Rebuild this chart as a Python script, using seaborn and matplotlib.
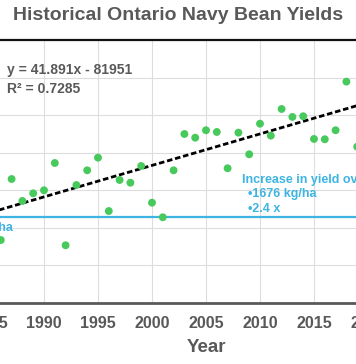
import matplotlib
matplotlib.use("Agg")
import matplotlib.pyplot as plt
import numpy as np
import pandas as pd
import seaborn as sns

# Yield data (kg/ha)
years = [1986, 1987, 1988, 1989, 1990, 1991, 1992, 1993, 1994, 1995,
         1996, 1997, 1998, 1999, 2000, 2001, 2002, 2003, 2004, 2005,
         2006, 2007, 2008, 2009, 2010, 2011, 2012, 2013, 2014, 2015,
         2016, 2017, 2018, 2019]
yields = [838, 1650, 1358, 1460, 1500, 1863, 768, 1570, 1766, 1934,
          1224, 1637, 1601, 1823, 1335, 1141, 1766, 2249, 2200, 2299,
          2276, 1793, 2267, 1979, 2386, 2227, 2582, 2476, 2485, 2183,
          2179, 2299, 2946, 2080]

# Trendline from the chart's equation
slope = 41.891
intercept = -81951
r_squared = 0.7285
trend_years = [1981, 2020]

baseline = 1150
increase = 1676
ratio = 2.4

df = pd.DataFrame({"year": years, "yield": yields})
df_trend = pd.DataFrame({"year": trend_years})
df_trend["yield"] = slope * df_trend["year"] + intercept

sns.set_theme(style="whitegrid")
plt.rcParams['font.family'] = ['Liberation Sans', 'DejaVu Sans']

gray = "#595959"
green = "#47C95B"
blue = "#3DB4E2"

fig = plt.figure(figsize=(3.56, 3.64), dpi=100)
ax = fig.add_axes([-64 / 356, 61 / 364, 540 / 356, 263 / 364])

ax.axhline(baseline, color=blue, lw=1.6, zorder=2)
sns.lineplot(data=df_trend, x="year", y="yield", ax=ax, color="black",
             lw=2.0, dashes=False, zorder=3)
ax.lines[-1].set_dashes((2.0, 1.0))
sns.scatterplot(data=df, x="year", y="yield", ax=ax, color=green, s=32,
                edgecolor="none", zorder=4)

ax.set_xlim(1980, 2030)
ax.set_ylim(0, 3500)
ax.set_xticks(range(1980, 2031, 5))
ax.set_yticks(range(0, 3501, 500))
ax.grid(True, color="#DDDDDD", lw=0.8)
ax.tick_params(axis="x", length=0, pad=9, labelsize=11.5, labelcolor=gray)
for lab in ax.get_xticklabels():
    lab.set_fontweight("bold")
ax.set_yticklabels([])
ax.set_ylabel("")
ax.set_xlabel("Year", fontsize=13.5, fontweight="bold", color=gray, labelpad=6)

for side in ["left", "right"]:
    ax.spines[side].set_visible(False)
ax.spines["top"].set_color("#111111")
ax.spines["top"].set_linewidth(1.6)
ax.spines["bottom"].set_color(gray)
ax.spines["bottom"].set_linewidth(2)

ax.text(1986.55, 3048, f"y = {slope}x - {abs(intercept)}", fontsize=10,
        fontweight="bold", color=gray, va="baseline", ha="left")
ax.text(1986.55, 2791, f"R\u00b2 = {r_squared}", fontsize=10,
        fontweight="bold", color=gray, va="baseline", ha="left")

ax.text(1987.16, 962, f"~{baseline} kg/ha", fontsize=9, fontweight="bold",
        color=blue, va="baseline", ha="right")
ax.text(2008.33, 1601, "Increase in yield over time", fontsize=9,
        fontweight="bold", color=blue, va="baseline", ha="left")
ax.text(2008.9, 1411, f"\u2022{increase} kg/ha", fontsize=9,
        fontweight="bold", color=blue, va="baseline", ha="left")
ax.text(2008.9, 1215, f"\u2022{ratio} x", fontsize=9,
        fontweight="bold", color=blue, va="baseline", ha="left")

fig.text(0.5, 1 - 15 / 364, "Historical Ontario Navy Bean Yields",
         fontsize=14, fontweight="bold", color=gray, ha="center", va="center")

fig.savefig("out.png", dpi=100)
